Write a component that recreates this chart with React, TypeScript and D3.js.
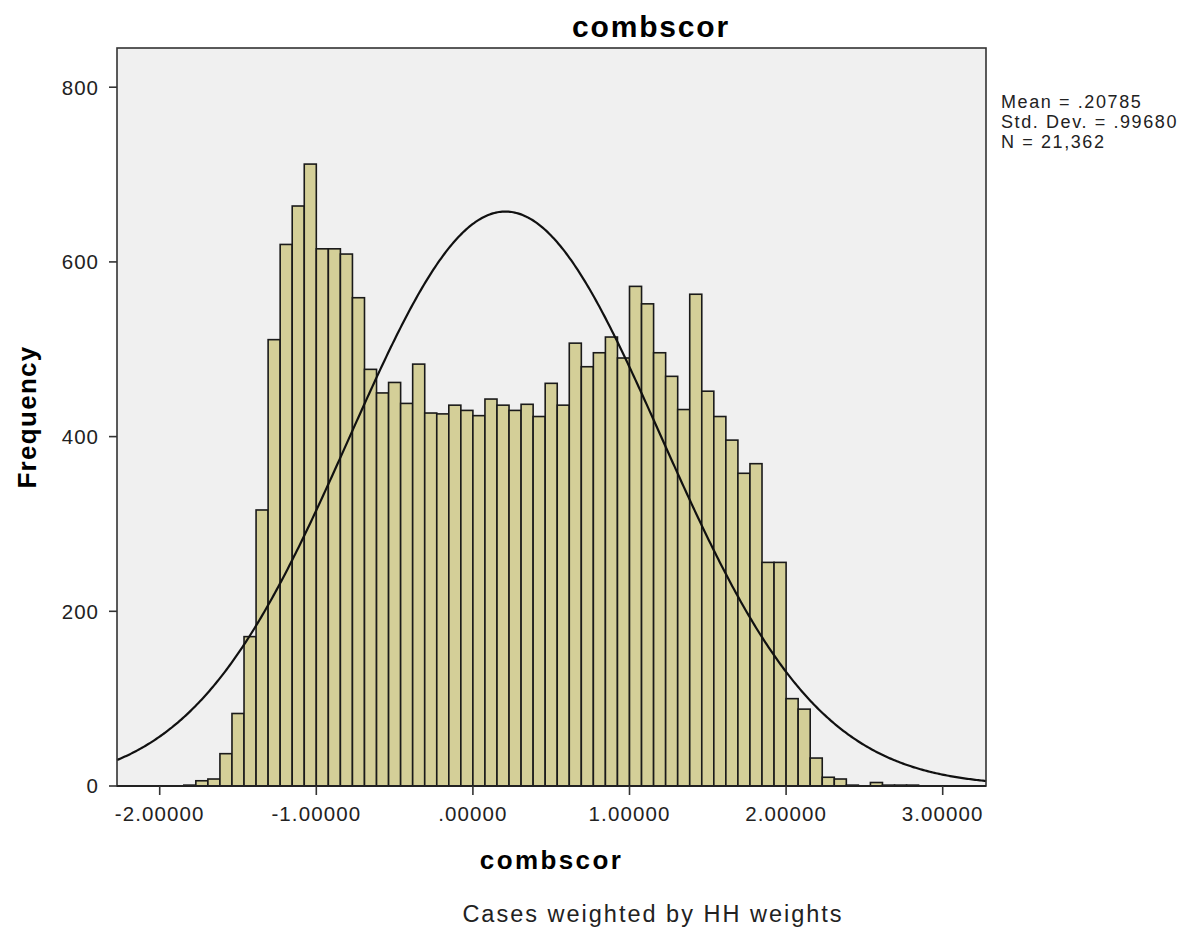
import React from 'react';
import * as d3 from 'd3';

// histogram of combscor, SPSS style
const binWidth = 1 / 13;
const firstEdge = -24 / 13;
const frequencies = [
  1, 6, 8, 37, 83, 171, 316, 511, 620, 664, 712, 615, 615, 609, 559, 477, 450, 462, 438, 483,
  427, 426, 436, 430, 424, 443, 436, 430, 437, 423, 461, 436, 507, 480, 496, 514, 490, 572, 552,
  496, 469, 431, 563, 452, 423, 396, 358, 369, 256, 256, 100, 88, 32, 10, 8, 1, 0, 4, 1, 1, 1,
];

const xTicks = [-2, -1, 0, 1, 2, 3];
const xTickLabels = ['-2.00000', '-1.00000', '.00000', '1.00000', '2.00000', '3.00000'];
const yTicks = [0, 200, 400, 600, 800];

const mean = 0.20785;
const stdDev = 0.9968;
const total = 21362;
const statLines = ['Mean = .20785', 'Std. Dev. = .99680', 'N = 21,362'];

const W = 1196;
const H = 934;
const plot = { left: 117, right: 986, top: 48, bottom: 786 };
const font = 'Arial, "Liberation Sans", sans-serif';

const App = () => {
  const x = d3.scaleLinear().domain([-2.2727, 3.2765]).range([plot.left, plot.right]);
  const y = d3.scaleLinear().domain([0, 844.9]).range([plot.bottom, plot.top]);

  const bins = frequencies.map((f, i) => ({
    x0: firstEdge + i * binWidth,
    x1: firstEdge + (i + 1) * binWidth,
    f,
  }));

  // fitted normal curve from the stats shown
  const [d0, d1] = x.domain();
  const curvePts = d3.range(d0, d1 + 0.005, 0.01).map((v) => {
    const z = (v - mean) / stdDev;
    const h = (total * binWidth * Math.exp(-0.5 * z * z)) / (stdDev * Math.sqrt(2 * Math.PI));
    return [v, h] as [number, number];
  });
  const line = d3
    .line<[number, number]>()
    .x((d) => x(d[0]))
    .y((d) => y(d[1]));

  return (
    <svg
      width={W}
      height={H}
      style={{ position: 'absolute', left: 0, top: 0, background: '#fff' }}
      fontFamily={font}
    >
      <text x={651} y={37} textAnchor="middle" fontSize={30} fontWeight="bold" letterSpacing={1.8}>
        combscor
      </text>

      <rect
        x={plot.left}
        y={plot.top}
        width={plot.right - plot.left}
        height={plot.bottom - plot.top}
        fill="#f0f0f0"
      />

      <g>
        {bins.map((b, i) => (
          <rect
            key={i}
            x={x(b.x0)}
            y={y(b.f)}
            width={x(b.x1) - x(b.x0)}
            height={y(0) - y(b.f)}
            fill="#d4cf98"
            stroke="#1a1a1a"
            strokeWidth={1.6}
          />
        ))}
      </g>

      <path d={line(curvePts) ?? ''} fill="none" stroke="#111" strokeWidth={2.2} />

      <rect
        x={plot.left}
        y={plot.top}
        width={plot.right - plot.left}
        height={plot.bottom - plot.top}
        fill="none"
        stroke="#333"
        strokeWidth={1.6}
      />
      <line x1={plot.left} x2={plot.right} y1={plot.bottom} y2={plot.bottom} stroke="#222" strokeWidth={2.2} />

      {/* y axis */}
      {yTicks.map((t) => (
        <g key={t}>
          <line x1={plot.left - 8} x2={plot.left} y1={y(t)} y2={y(t)} stroke="#333" strokeWidth={1.6} />
          <text
            x={plot.left - 18}
            y={y(t)}
            dy="0.36em"
            textAnchor="end"
            fontSize={20.5}
            letterSpacing={1}
            fill="#222"
          >
            {t}
          </text>
        </g>
      ))}

      {/* x axis */}
      {xTicks.map((t, i) => (
        <g key={t}>
          <line x1={x(t)} x2={x(t)} y1={plot.bottom} y2={plot.bottom + 9} stroke="#333" strokeWidth={1.6} />
          <text x={x(t)} y={821} textAnchor="middle" fontSize={20.5} letterSpacing={1.1} fill="#222">
            {xTickLabels[i]}
          </text>
        </g>
      ))}

      <text
        x={(plot.left + plot.right) / 2}
        y={869}
        textAnchor="middle"
        fontSize={26}
        fontWeight="bold"
        letterSpacing={2.4}
      >
        combscor
      </text>
      <text
        transform={`translate(36, ${(plot.top + plot.bottom) / 2}) rotate(-90)`}
        textAnchor="middle"
        fontSize={26}
        fontWeight="bold"
        letterSpacing={1.3}
      >
        Frequency
      </text>

      {statLines.map((s, i) => (
        <text key={s} x={1001} y={108 + i * 19.8} fontSize={18} letterSpacing={1.6} fill="#222">
          {s}
        </text>
      ))}

      <text x={653} y={922} textAnchor="middle" fontSize={23.5} letterSpacing={2} fill="#222">
        Cases weighted by HH weights
      </text>
    </svg>
  );
};

export default App;
